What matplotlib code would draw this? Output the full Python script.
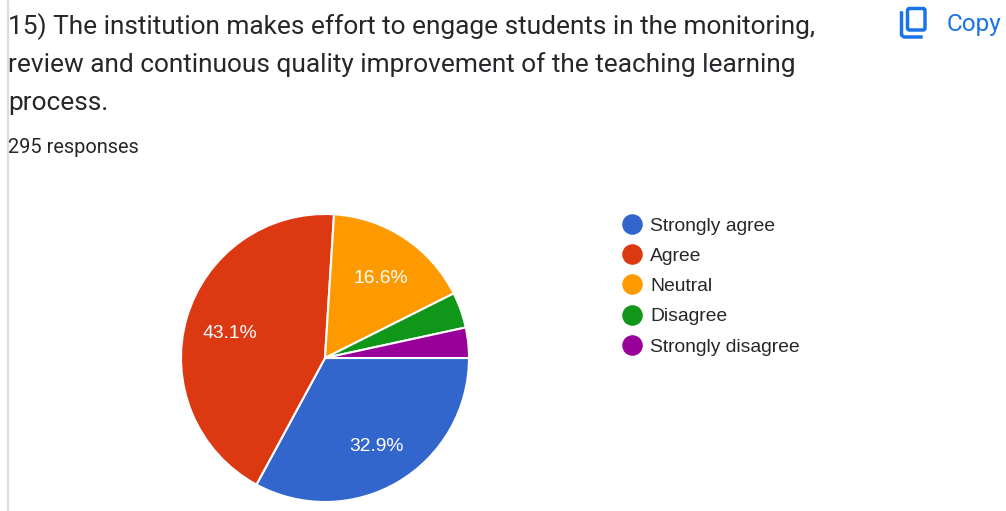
"""Survey pie chart: question 15, engagement of students in quality improvement."""

import matplotlib
matplotlib.use("Agg")
import matplotlib.pyplot as plt
from matplotlib.lines import Line2D
from matplotlib.patches import FancyBboxPatch

# ── data ────────────────────────────────────────────────────────────────────
CATEGORIES = ["Strongly agree", "Agree", "Neutral", "Disagree", "Strongly disagree"]
PERCENTS = [32.9, 43.1, 16.6, 4.0, 3.4]
COLORS = ["#3366cc", "#dc3912", "#ff9900", "#109618", "#990099"]
TITLE_LINES = [
    "15) The institution makes effort to engage students in the monitoring,",
    "review and continuous quality improvement of the teaching learning",
    "process.",
]
TITLE_Y = [27, 65, 103]
RESPONSES = "295 responses"

W, H = 1006, 511
TEXT_DARK = "#26272a"
BLUE = "#1a73e8"


def fx(px):
    return px / W


def fy(py):
    return 1 - py / H


def percent_label(value):
    # small slices carry no label, same as the forms chart
    return f"{value:.1f}%" if value >= 5 else ""


fig = plt.figure(figsize=(W / 100, H / 100), dpi=100, facecolor="white")

# ── header text ─────────────────────────────────────────────────────────────
for line, y in zip(TITLE_LINES, TITLE_Y):
    fig.text(fx(8), fy(y), line, family="Roboto", fontsize=18.95, color=TEXT_DARK,
             va="center", ha="left")
fig.text(fx(8), fy(147), RESPONSES, family="Roboto", fontsize=14.4, color=TEXT_DARK,
         va="center", ha="left")
fig.text(fx(947), fy(24), "Copy", family="Roboto", fontsize=17.6, color=BLUE,
         va="center", ha="left")

# left border of the card
fig.add_artist(Line2D([fx(7.5), fx(7.5)], [0, 1], color="#dadce0", lw=1.6))

# ── copy icon ───────────────────────────────────────────────────────────────
ax_icon = fig.add_axes([fx(896), fy(42), 36 / W, 36 / H])
ax_icon.set_xlim(896, 932)
ax_icon.set_ylim(42, 6)
ax_icon.axis("off")
ax_icon.add_patch(FancyBboxPatch((907.5, 8.5), 17.5, 21.5, boxstyle="round,pad=0,rounding_size=2",
                                 fc="none", ec=BLUE, lw=2.5))
ax_icon.plot([901.5, 901.5, 904, 921], [13, 35, 37, 37], color=BLUE, lw=2.5,
             solid_joinstyle="round")

# ── pie ─────────────────────────────────────────────────────────────────────
cx, cy, r = 325, 358, 144
ax = fig.add_axes([fx(cx - r), fy(cy + r), 2 * r / W, 2 * r / H])
wedges, _, autotexts = ax.pie(
    PERCENTS, colors=COLORS, startangle=0, counterclock=False, radius=1.0,
    autopct=percent_label, pctdistance=0.69,
    wedgeprops=dict(edgecolor="white", linewidth=1.5),
    textprops=dict(family="Liberation Sans", fontsize=13.9, color="white"),
)
ax.set_xlim(-1, 1)
ax.set_ylim(-1, 1)
for t in autotexts:
    x, y = t.get_position()
    t.set_position((x + 0.006, y - 0.02))

# ── legend ──────────────────────────────────────────────────────────────────
handles = [Line2D([], [], marker="o", ls="none", ms=13.8, mfc=c, mec=c) for c in COLORS]
leg = fig.legend(handles, CATEGORIES, loc="upper left", frameon=False,
                 bbox_to_anchor=(fx(622), fy(217)), borderaxespad=0, borderpad=0,
                 labelspacing=0.66, handletextpad=0.46, handlelength=1.0,
                 prop=dict(family="Liberation Sans", size=13.9))
for t in leg.get_texts():
    t.set_color("#26272a")

fig.savefig("out.png", dpi=100, facecolor="white")
